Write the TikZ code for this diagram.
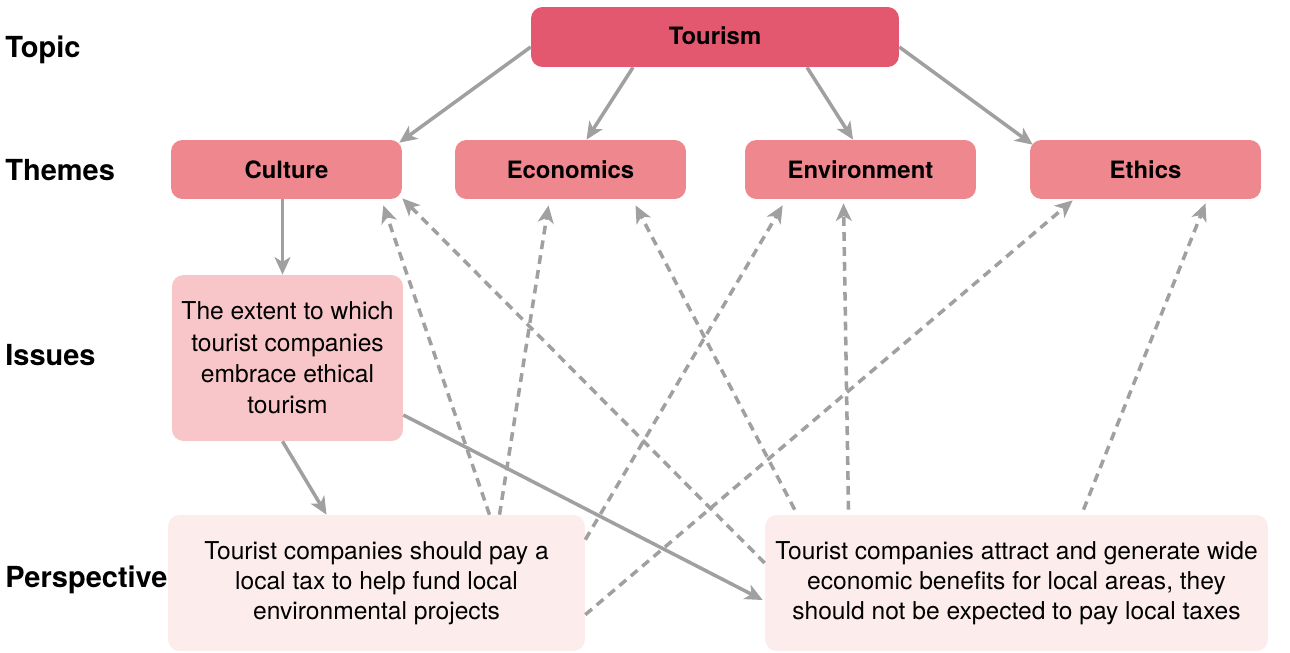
\documentclass[tikz,border=0pt]{standalone}
\usepackage{fontspec}
\setmainfont{TeX Gyre Heros}
\usetikzlibrary{arrows.meta}
\definecolor{topicred}{RGB}{227,88,110}
\definecolor{themepink}{RGB}{238,135,142}
\definecolor{issuepink}{RGB}{248,198,200}
\definecolor{viewpink}{RGB}{252,236,236}
\definecolor{linkgray}{RGB}{160,160,160}
\begin{document}
\begin{tikzpicture}[x=0.02cm, y=-0.02cm,
    box/.style={rounded corners=6.5pt, inner sep=0pt, align=center,
        font=\fontsize{14}{17.2}\selectfont},
    topicbox/.style={box, fill=topicred, minimum width=7.36cm, minimum height=1.2cm, font=\fontsize{13.6}{17}\selectfont\bfseries},
    themebox/.style={box, fill=themepink, minimum width=4.62cm, minimum height=1.18cm, font=\fontsize{13.6}{17}\selectfont\bfseries},
    issuebox/.style={box, fill=issuepink, minimum width=4.62cm, minimum height=3.32cm,
        font=\fontsize{14}{17.8}\selectfont},
    viewbox/.style={box, fill=viewpink, minimum height=2.72cm},
    rowlabel/.style={anchor=west, inner sep=0pt, font=\fontsize{16.5}{18}\selectfont\bfseries},
    link/.style={draw=linkgray, line width=2pt, -{Stealth[length=10pt,width=9pt,inset=2.8pt]}},
    dlink/.style={link, dash pattern=on 5pt off 3.5pt}]
\useasboundingbox (0,0) rectangle (1290,652);
                \node[rowlabel] (lbltopic) at (5,50) {Topic};
                \node[rowlabel] (lblthemes) at (5,170) {Themes};
                \node[rowlabel] (lblissues) at (5,355) {Issues};
                \node[rowlabel] (lblview) at (5,580) {Perspective};
                \node[topicbox] (tourism) at (715,37) {\raisebox{1.5pt}{Tourism}};
                \node[themebox] (culture) at (286.5,169.5) {Culture};
                \node[themebox] (economics) at (570.5,169.5) {Economics};
                \node[themebox] (environment) at (860.5,169.5) {Environment};
                \node[themebox] (ethics) at (1145.5,169.5) {Ethics};
                \node[issuebox] (issue) at (287.5,358) {The extent to which\\tourist companies\\embrace ethical\\tourism};
                \node[viewbox, minimum width=8.34cm] (p1) at (376.5,583) {Tourist companies should pay a\\local tax to help fund local\\environmental projects};
                \node[viewbox, minimum width=10.06cm] (p2) at (1016.5,583) {Tourist companies attract and generate wide\\economic benefits for local areas, they\\should not be expected to pay local taxes};
                \draw[link] ([shift={(0,10)}]tourism.west) -- ([shift={(-3,3)}]culture.north east);
                \draw[link] ([shift={(-82,0)}]tourism.south) -- ([shift={(16,0)}]economics.north);
                \draw[link] ([shift={(92,0)}]tourism.south) -- ([shift={(-7.5,0)}]environment.north);
                \draw[link] ([shift={(0,10)}]tourism.east) -- ([shift={(3,5)}]ethics.north west);
                \draw[link] ([shift={(-4,0)}]culture.south) -- ([shift={(-5,0)}]issue.north);
                \draw[link] ([shift={(-5,0)}]issue.south) -- ([shift={(-50,0)}]p1.north);
                \draw[link] ([shift={(0,57)}]issue.east) -- ([shift={(-2,17)}]p2.west);
                \draw[dlink] ([shift={(113,0)}]p1.north) -- ([shift={(-19,6)}]culture.south east);
                \draw[dlink] ([shift={(123,0)}]p1.north) -- ([shift={(-22,6)}]economics.south);
                \draw[dlink] ([shift={(0,25)}]p1.north east) -- ([shift={(38,6)}]environment.south west);
                \draw[dlink] ([shift={(0,100)}]p1.north east) -- ([shift={(43,1)}]ethics.south west);
                \draw[dlink] ([shift={(0,-20)}]p2.west) -- ([shift={(0,-1)}]culture.south east);
                \draw[dlink] ([shift={(30,-5)}]p2.north west) -- ([shift={(65,6)}]economics.south);
                \draw[dlink] ([shift={(-168,-5)}]p2.north) -- ([shift={(-17,4)}]environment.south);
                \draw[dlink] ([shift={(67,-5)}]p2.north) -- ([shift={(60,4)}]ethics.south);
\end{tikzpicture}
\end{document}
